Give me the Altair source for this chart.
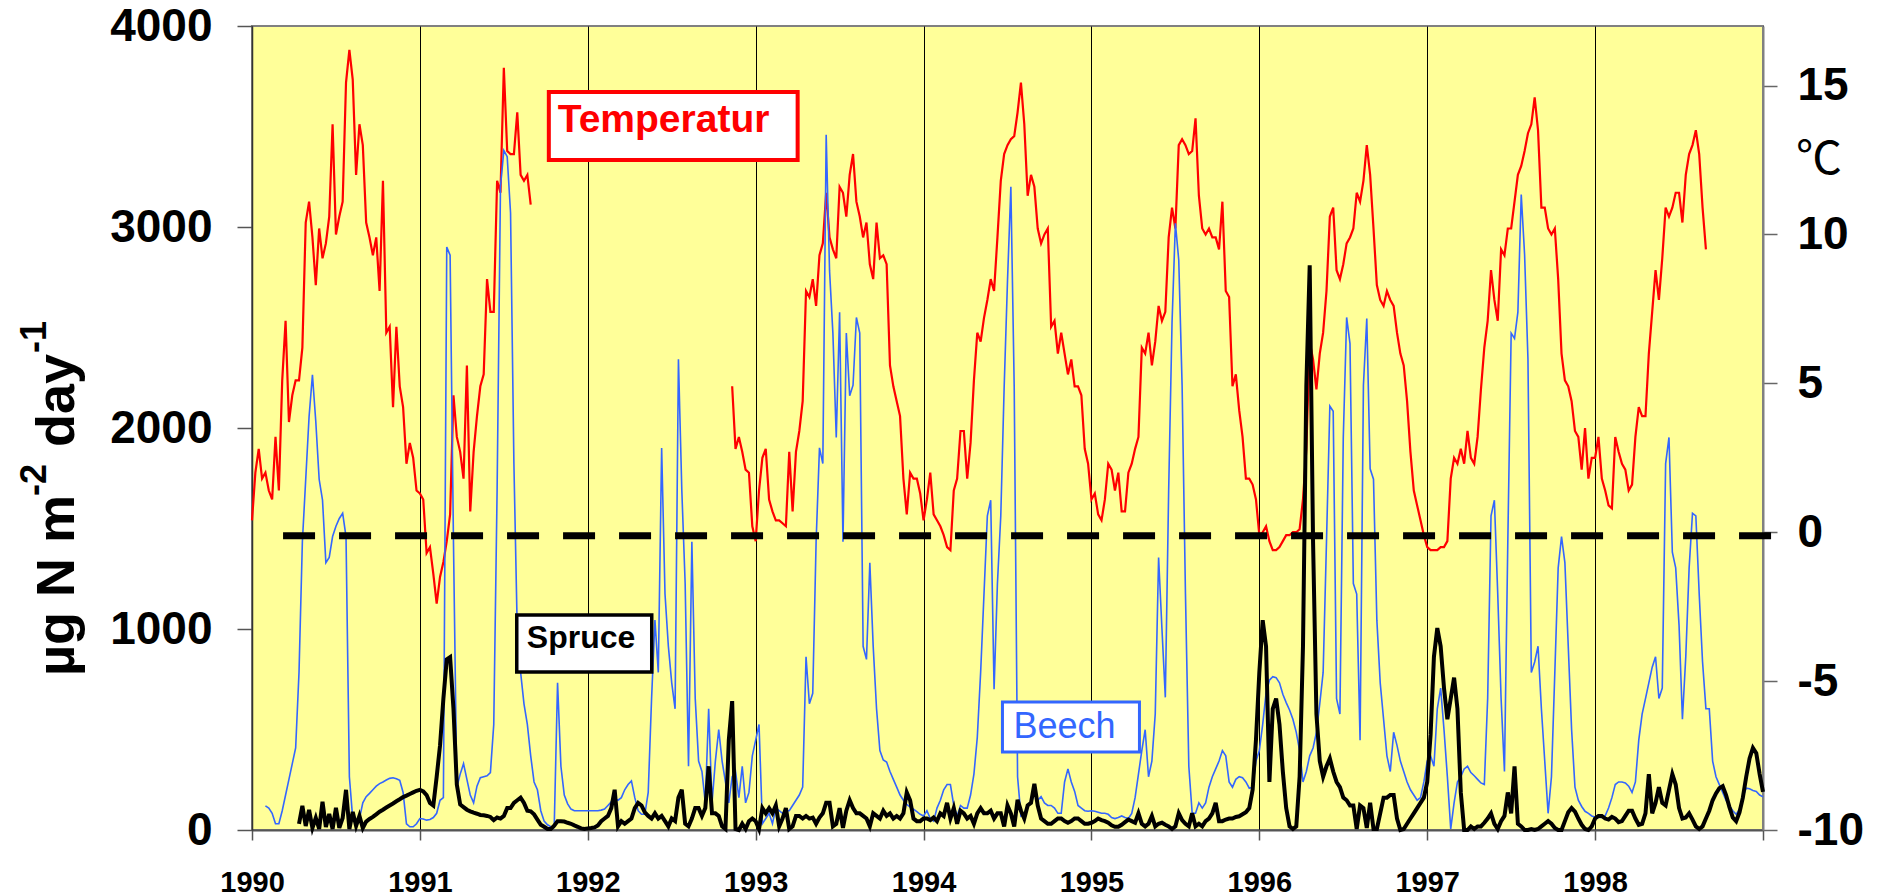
import altair as alt
import pandas as pd

# Weekly-ish sampling: one value every 1/50 year (~7.3 days), starting on 1 January.
STEP = 1 / 50

# Air temperature (°C, right axis)
TEMP_1990 = [0.4, 2.0, 2.8, 1.8, 2.0, 1.4, 1.1, 3.2, 1.4, 5.1,
             7.1, 3.7, 4.6, 5.1, 5.1, 6.2, 10.4, 11.1, 9.9, 8.3,
             10.2, 9.2, 9.7, 10.6, 13.7, 10.0, 10.6, 11.1, 15.1, 16.2,
             15.2, 12.0, 13.7, 13.0, 10.4, 9.9, 9.3, 9.9, 8.1, 11.8,
             6.7, 6.9, 4.2, 6.9, 4.9, 4.2, 2.3, 3.0, 2.5, 1.4]
TEMP_1991 = [1.3, 1.1, -0.7, -0.5, -1.4, -2.4, -1.5, -1.0, -0.3, 0.6,
             4.6, 3.2, 2.7, 1.8, 5.6, 0.7, 2.7, 3.9, 4.9, 5.3,
             8.5, 7.4, 7.4, 11.8, 11.4, 15.6, 12.8, 12.7, 12.7, 14.1,
             12.0, 11.8, 12.0, 11.0] + [None] * 16
TEMP_1992 = [None] * 43 + [4.9, 2.8, 3.2, 2.7, 2.1, 2.0, 0.2]
TEMP_1993 = [-0.3, 1.4, 2.5, 2.8, 1.1, 0.7, 0.4, 0.4, 0.3, 0.2,
             2.7, 0.7, 2.7, 3.4, 4.4, 8.1, 7.9, 8.5, 7.6, 9.3,
             9.7, 11.4, 9.9, 9.5, 9.2, 11.6, 11.4, 10.6, 12.0, 12.7,
             11.1, 10.6, 9.9, 10.4, 9.0, 8.5, 10.4, 9.2, 9.3, 9.0,
             5.6, 4.9, 4.4, 3.9, 1.8, 0.6, 2.0, 1.8, 1.8, 1.3]
TEMP_1994 = [0.4, 1.1, 2.0, 0.6, 0.4, 0.2, -0.1, -0.5, -0.6, 1.4,
             1.8, 3.4, 3.4, 1.8, 3.0, 5.1, 6.7, 6.4, 7.2, 7.8,
             8.5, 8.1, 9.9, 11.8, 12.7, 13.0, 13.2, 13.3, 14.1, 15.1,
             13.7, 11.3, 12.0, 11.6, 10.2, 9.7, 10.0, 10.2, 6.9, 7.1,
             6.0, 6.7, 6.0, 5.3, 5.8, 4.9, 4.9, 4.6, 2.8, 2.3]
TEMP_1995 = [1.1, 1.3, 0.6, 0.4, 1.1, 2.3, 2.1, 1.4, 2.0, 0.7,
             0.7, 2.0, 2.3, 2.8, 3.2, 6.2, 6.0, 6.7, 5.6, 6.4,
             7.6, 7.1, 7.4, 9.9, 10.9, 10.2, 13.0, 13.2, 13.0, 12.7,
             12.8, 13.9, 11.3, 10.2, 10.0, 10.2, 9.9, 9.9, 9.5, 11.1,
             8.1, 7.9, 4.9, 5.3, 4.1, 3.2, 1.8, 1.8, 1.6, 1.1]
TEMP_1996 = [-0.1, 0.0, 0.2, -0.3, -0.6, -0.6, -0.5, -0.3, -0.1, -0.1,
             0.0, 0.0, 0.1, 1.1, 2.8, 6.4, 5.8, 4.8, 6.0, 6.7,
             8.1, 10.6, 10.9, 8.8, 8.5, 9.0, 9.7, 9.9, 10.2, 11.4,
             11.1, 11.8, 13.0, 12.0, 10.2, 8.3, 7.8, 7.6, 8.1, 7.8,
             7.6, 6.7, 6.0, 5.6, 4.4, 2.7, 1.4, 0.9, 0.4, -0.1]
TEMP_1997 = [-0.5, -0.6, -0.6, -0.6, -0.5, -0.5, -0.3, 1.8, 2.5, 2.3,
             2.8, 2.3, 3.4, 2.5, 2.3, 3.2, 4.8, 6.2, 7.1, 8.8,
             7.8, 7.1, 9.5, 9.3, 10.2, 10.2, 11.1, 12.0, 12.3, 12.8,
             13.4, 13.7, 14.6, 13.5, 10.9, 10.9, 10.2, 10.0, 10.2, 8.5,
             6.0, 5.1, 4.9, 4.4, 3.4, 3.2, 2.1, 3.5, 1.8, 2.5]
TEMP_1998 = [2.5, 3.2, 1.8, 1.4, 0.9, 0.8, 3.2, 2.7, 2.3, 2.1,
             1.4, 1.6, 3.2, 4.2, 3.9, 3.9, 6.0, 7.4, 8.8, 7.8,
             9.2, 10.9, 10.6, 10.9, 11.4, 11.4, 10.4, 12.0, 12.7, 13.0,
             13.5, 12.7, 10.9, 9.5]

# Nitrogen flux under beech (µg N m-2 day-1, left axis)
BEECH_1990 = [None] * 4 + [120, 109, 83, 31, 31, 96,
                           174, 252, 330, 408, 784, 1434, 1745, 2057, 2265, 2031,
                           1745, 1641, 1330, 1356, 1460, 1511, 1550, 1576, 1460, 265,
                           57, 44, 57, 135, 166, 182, 200, 218, 231, 239,
                           249, 257, 260, 255, 247, 187, 31, 16, 16, 31]
BEECH_1991 = [57, 55, 49, 52, 62, 83, 148, 161, 2900, 2860,
              1434, 213, 278, 330, 252, 174, 135, 218, 260, 265,
              270, 286, 525, 1693, 3200, 3381, 3350, 3070, 1823, 992,
              784, 628, 525, 369, 239, 200, 96, 44, 26, 16,
              13, 732, 317, 174, 130, 104, 96, 96, 96, 96]
BEECH_1992 = [96, 96, 96, 96, 99, 104, 122, 140, 156, 148,
              161, 200, 226, 244, 161, 96, 78, 78, 187, 654,
              1044, 784, 1901, 1174, 914, 732, 603, 2342, 1693, 1226,
              317, 1434, 654, 343, 291, 135, 603, 135, 343, 499,
              343, 239, 135, 265, 291, 161, 317, 135, 187, 369]
BEECH_1993 = [447, 525, 31, 57, 83, 31, 109, 96, 83, 96,
              96, 122, 148, 174, 213, 862, 628, 680, 1434, 1901,
              1823, 3459, 2784, 2472, 1953, 2576, 1434, 2472, 2161, 2213,
              2550, 2472, 914, 849, 1330, 914, 603, 395, 348, 338,
              291, 252, 213, 174, 148, 127, 114, 104, 91, 78]
BEECH_1994 = [70, 96, 57, 44, 109, 148, 200, 226, 226, 122,
              70, 122, 109, 109, 174, 278, 460, 784, 1174, 1563,
              1641, 700, 1226, 1563, 2200, 2732, 3200, 2200, 265, 70,
              83, 122, 135, 174, 148, 166, 135, 122, 122, 109,
              83, 83, 239, 304, 239, 192, 122, 109, 96, 93]
BEECH_1995 = [96, 93, 88, 83, 83, 78, 62, 57, 62, 70,
              62, 57, 83, 161, 278, 395, 499, 265, 343, 577,
              1356, 1000, 660, 1693, 2524, 3018, 2836, 2213, 1174, 317,
              83, 83, 135, 109, 135, 213, 265, 304, 343, 395,
              369, 239, 213, 252, 265, 260, 239, 208, 213, 343]
BEECH_1996 = [395, 525, 680, 745, 763, 758, 732, 675, 634, 597,
              551, 486, 395, 239, 291, 369, 408, 486, 628, 784,
              1434, 2109, 2083, 654, 577, 1953, 2550, 2420, 1226, 1174,
              447, 2213, 2545, 1797, 1745, 1044, 732, 551, 369, 291,
              486, 421, 343, 291, 239, 200, 174, 148, 161, 239]
BEECH_1997 = [343, 369, 317, 603, 706, 499, 265, 5, 135, 239,
              265, 304, 317, 286, 270, 252, 234, 226, 654, 1563,
              1641, 1174, 654, 291, 1434, 2472, 2446, 2576, 3161, 2862,
              2342, 784, 836, 914, 603, 343, 83, 265, 784, 1304,
              1460, 1330, 914, 499, 213, 148, 117, 93, 83, 70]
BEECH_1998 = [65, 62, 62, 70, 109, 161, 226, 239, 239, 234,
              218, 187, 239, 447, 577, 654, 732, 810, 862, 654,
              706, 1823, 1953, 1382, 1304, 1018, 551, 862, 1304, 1576,
              1563, 1174, 836, 603, 603, 343, 265, 226, 187, 148,
              122, 96, 78, 104, 166, 208, 205, 197, 192, 174, 165]

# Nitrogen flux under spruce (µg N m-2 day-1, left axis)
SPRUCE_1990 = [None] * 14 + [31, 120, 20, 100, 10, 60,
                             5, 140, 15, 80, 5, 110, 10, 60, 200, 5,
                             90, 20, 70, 10, 42, 55, 65, 78, 91, 101,
                             112, 122, 132, 143, 153, 164, 171, 179, 187, 195]
SPRUCE_1991 = [200, 192, 174, 135, 122, 265, 421, 654, 849, 860,
               603, 226, 127, 114, 101, 93, 86, 81, 75, 73,
               70, 65, 49, 62, 57, 70, 109, 109, 135, 148,
               161, 135, 96, 93, 78, 52, 26, 16, 5, 5,
               21, 44, 44, 42, 36, 31, 23, 16, 8, 5]
SPRUCE_1992 = [8, 10, 13, 23, 44, 57, 70, 109, 200, 18,
               44, 31, 44, 57, 109, 135, 122, 88, 70, 57,
               83, 57, 70, 44, 18, 57, 44, 161, 200, 31,
               18, 57, 109, 109, 70, 109, 317, 83, 83, 70,
               18, 5, 447, 641, 5, 0, 31, 5, 44, 57]
SPRUCE_1993 = [44, 5, 109, 83, 109, 83, 122, 18, 57, 109,
               5, 18, 70, 70, 57, 70, 57, 62, 31, 62,
               83, 135, 135, 18, 31, 109, 10, 96, 148, 109,
               83, 83, 70, 57, 18, 83, 70, 57, 96, 70,
               83, 57, 70, 57, 83, 187, 148, 57, 44, 44]
SPRUCE_1994 = [57, 57, 49, 62, 44, 83, 70, 135, 57, 109,
               31, 96, 83, 57, 70, 31, 83, 109, 83, 83,
               96, 57, 83, 83, 18, 122, 83, 18, 150, 96,
               57, 122, 135, 230, 122, 57, 44, 31, 31, 44,
               57, 57, 44, 36, 44, 57, 57, 44, 31, 31]
SPRUCE_1995 = [36, 44, 57, 49, 44, 36, 23, 16, 16, 26,
               39, 52, 44, 36, 83, 31, 18, 31, 70, 18,
               31, 36, 26, 18, 5, 18, 83, 49, 31, 18,
               83, 18, 31, 18, 44, 57, 83, 135, 44, 44,
               52, 57, 57, 65, 68, 78, 88, 109, 200, 450]
SPRUCE_1996 = [784, 1044, 914, 239, 603, 654, 525, 291, 109, 18,
               5, 18, 265, 914, 2213, 2810, 1434, 577, 343, 265,
               317, 356, 291, 239, 213, 161, 148, 122, 122, 5,
               122, 109, 10, 135, 5, 5, 83, 161, 161, 174,
               174, 57, 0, 5, 31, 57, 83, 109, 135, 161]
SPRUCE_1997 = [239, 473, 862, 1005, 914, 706, 551, 654, 758, 603,
               187, 0, 0, 18, 5, 18, 18, 36, 57, 83,
               31, 5, 44, 70, 187, 83, 317, 31, 18, 0,
               0, 5, 0, 5, 18, 31, 44, 31, 10, 0,
               0, 44, 88, 109, 91, 57, 26, 5, 0, 18]
SPRUCE_1998 = [57, 70, 70, 57, 52, 65, 57, 39, 44, 70,
               96, 96, 57, 26, 31, 83, 278, 83, 135, 213,
               135, 122, 200, 278, 226, 109, 57, 62, 83, 52,
               18, 5, 18, 57, 96, 148, 182, 208, 218, 174,
               114, 62, 44, 88, 161, 265, 356, 408, 382, 278, 190]

YEARS = list(range(1990, 1999))
TEMPERATURE = dict(zip(YEARS, [TEMP_1990, TEMP_1991, TEMP_1992, TEMP_1993, TEMP_1994,
                               TEMP_1995, TEMP_1996, TEMP_1997, TEMP_1998]))
BEECH = dict(zip(YEARS, [BEECH_1990, BEECH_1991, BEECH_1992, BEECH_1993, BEECH_1994,
                         BEECH_1995, BEECH_1996, BEECH_1997, BEECH_1998]))
SPRUCE = dict(zip(YEARS, [SPRUCE_1990, SPRUCE_1991, SPRUCE_1992, SPRUCE_1993, SPRUCE_1994,
                          SPRUCE_1995, SPRUCE_1996, SPRUCE_1997, SPRUCE_1998]))

# 0 °C reference line and the labelled boxes (in data units)
ZERO_LINE = pd.DataFrame({"start": [1990.185], "end": [1999.048], "temp": [-0.12]})
LABELS = [
    # text, box x0, x1, y0, y1, text x, text y, colour, border, size, weight
    ("Temperatur", 1991.768, 1993.25, 3672, 3333, 1991.821, 3473, "#FF0000", 4, 39, "bold"),
    ("Spruce", 1991.577, 1992.381, 1070, 786, 1991.637, 905, "#000000", 3.5, 32, "bold"),
    ("Beech", 1994.470, 1995.286, 637, 388, 1994.536, 458, "#3366FF", 3, 36, "normal"),
]

FONT = "Liberation Sans"


def to_frame(by_year):
    rows, seg, gap = [], 0, False
    for year, values in by_year.items():
        for i, v in enumerate(values):
            if v is None:
                gap = True
                continue
            if gap and rows:
                seg += 1
            gap = False
            rows.append({"year": round(year + i * STEP, 4), "value": v, "seg": seg})
    return pd.DataFrame(rows)


temp_df = to_frame(TEMPERATURE)
beech_df = to_frame(BEECH)
spruce_df = to_frame(SPRUCE)

x_scale = alt.Scale(domain=[1990, 1999], nice=False, zero=False)
n_scale = alt.Scale(domain=[0, 4000], nice=False, zero=False)
t_scale = alt.Scale(domain=[-10, 17], nice=False, zero=False)

x_axis = alt.Axis(
    values=list(range(1990, 2000)),
    labelExpr="datum.value < 1999 ? '' + datum.value : ''",
    labelFont=FONT, labelFontSize=29, labelFontWeight="bold", labelColor="black",
    labelPadding=28, labelFlush=False, labelOverlap=False,
    tickSize=10, tickColor="#555555", tickWidth=1.5,
    domainColor="#555555", domainWidth=2,
    grid=True, gridColor="black", gridWidth=1, gridOpacity=1, title=None,
)
n_axis = alt.Axis(
    orient="left", values=[0, 1000, 2000, 3000, 4000], labelExpr="'' + datum.value",
    labelFont=FONT, labelFontSize=46, labelFontWeight="bold", labelColor="black",
    labelPadding=25, tickSize=15, tickColor="#555555", tickWidth=1.5,
    domainColor="#333333", domainWidth=1.5, grid=False, title=None,
)
t_axis = alt.Axis(
    orient="right", values=[-10, -5, 0, 5, 10, 15], labelExpr="'' + datum.value",
    labelFont=FONT, labelFontSize=46, labelFontWeight="bold", labelColor="black",
    labelPadding=20, tickSize=14, tickColor="#666666", tickWidth=1.5,
    domainColor="#808080", domainWidth=2, grid=False, title=None,
)


def X(field):
    return alt.X(f"{field}:Q", scale=x_scale, axis=x_axis)


temp_line = alt.Chart(temp_df).mark_line(color="#FF0000", strokeWidth=2.2).encode(
    x=X("year"), y=alt.Y("value:Q", scale=t_scale, axis=t_axis), detail="seg:N"
)
beech_line = alt.Chart(beech_df).mark_line(color="#3366FF", strokeWidth=1.6).encode(
    x=X("year"), y=alt.Y("value:Q", scale=n_scale, axis=n_axis), detail="seg:N"
)
spruce_line = alt.Chart(spruce_df).mark_line(color="black", strokeWidth=4).encode(
    x=X("year"), y=alt.Y("value:Q", scale=n_scale, axis=None), detail="seg:N"
)
zero_rule = alt.Chart(ZERO_LINE).mark_rule(color="black", strokeWidth=7, strokeDash=[32, 24]).encode(
    x=X("start"), x2="end:Q", y=alt.Y("temp:Q", scale=t_scale, axis=None)
)

layers = [temp_line, beech_line, spruce_line, zero_rule]

for text, x0, x1, y0, y1, tx, ty, colour, border, size, weight in LABELS:
    box_df = pd.DataFrame({"x0": [x0], "x1": [x1], "y0": [y0], "y1": [y1]})
    layers.append(
        alt.Chart(box_df).mark_rect(fill="white", stroke=colour, strokeWidth=border).encode(
            x=X("x0"), x2="x1:Q", y=alt.Y("y0:Q", scale=n_scale, axis=None), y2="y1:Q"
        )
    )
    text_df = pd.DataFrame({"tx": [tx], "ty": [ty], "label": [text]})
    layers.append(
        alt.Chart(text_df).mark_text(
            align="left", baseline="alphabetic", font=FONT, fontSize=size,
            fontWeight=weight, color=colour,
        ).encode(x=X("tx"), y=alt.Y("ty:Q", scale=n_scale, axis=None), text="label:N")
    )

# Left axis title with superscripts, read bottom to top
TITLE_PARTS = [
    ("µg N m", -178, 650, 54),
    ("-2", -206, 470, 36),
    ("day", -178, 421, 54),
    ("-1", -206, 327, 36),
]
one_row = pd.DataFrame({"k": [0]})
for text, px, py, size in TITLE_PARTS:
    layers.append(
        alt.Chart(one_row).mark_text(
            angle=270, align="left", baseline="alphabetic", font=FONT,
            fontSize=size, fontWeight="bold", color="black",
        ).encode(x=alt.value(px), y=alt.value(py), text=alt.value(text))
    )

# Unit of the right axis
layers.append(
    alt.Chart(one_row).mark_text(
        align="center", baseline="middle", font="Noto Sans CJK JP", fontSize=46, color="black",
    ).encode(x=alt.value(1567), y=alt.value(134), text=alt.value("℃"))
)

chart = (
    alt.layer(*layers)
    .resolve_scale(y="independent")
    .properties(
        width=1511, height=804, autosize="none",
        padding={"left": 252, "top": 26, "right": 117, "bottom": 66},
        background="white",
    )
    .configure_view(fill="#FFFF99", stroke="#808080", strokeWidth=2)
)

chart.save("out.html", embed_options={"renderer": "svg", "actions": False})
